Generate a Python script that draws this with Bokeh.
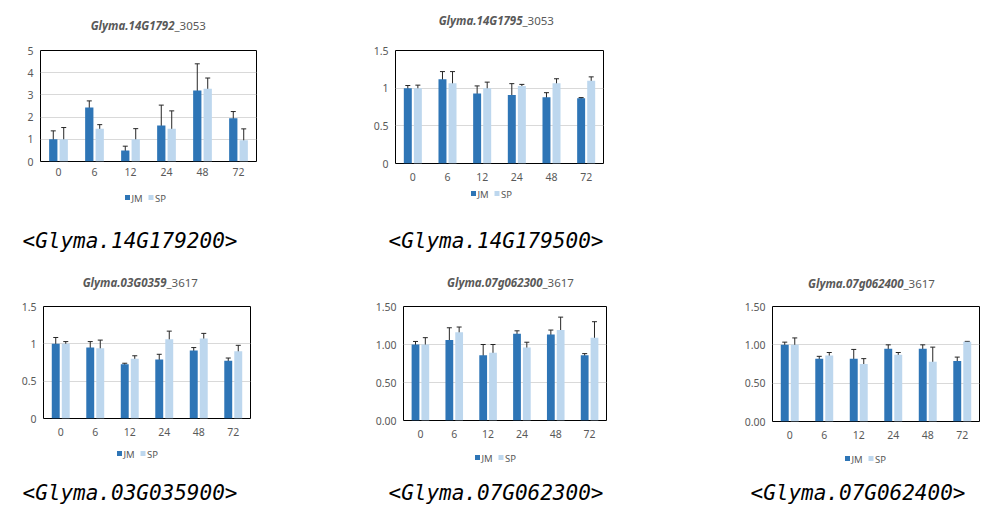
from bokeh.plotting import figure
from bokeh.models import (FactorRange, Range1d, ColumnDataSource, Whisker, TeeHead,
                          FixedTicker, NumeralTickFormatter)
from bokeh.core.properties import value
from bokeh.transform import dodge
from bokeh.layouts import row, column
from bokeh.embed import file_html
from bokeh.resources import INLINE

hours = ["0", "6", "12", "24", "48", "72"]

# Glyma.14G1792_3053
c1_jm = [1.0, 2.43, 0.49, 1.62, 3.2, 1.95]
c1_jm_err = [0.38, 0.3, 0.2, 0.92, 1.2, 0.3]
c1_sp = [1.0, 1.47, 1.0, 1.48, 3.28, 0.96]
c1_sp_err = [0.53, 0.19, 0.48, 0.8, 0.48, 0.51]

# Glyma.14G1795_3053
c2_jm = [1.0, 1.12, 0.93, 0.91, 0.88, 0.865]
c2_jm_err = [0.035, 0.1, 0.1, 0.15, 0.06, 0.01]
c2_sp = [1.0, 1.065, 1.0, 1.03, 1.065, 1.10]
c2_sp_err = [0.04, 0.155, 0.08, 0.02, 0.06, 0.05]

# Glyma.03G0359_3617
c3_jm = [1.0, 0.95, 0.725, 0.79, 0.91, 0.775]
c3_jm_err = [0.085, 0.08, 0.015, 0.07, 0.04, 0.035]
c3_sp = [1.0, 0.94, 0.80, 1.06, 1.07, 0.90]
c3_sp_err = [0.03, 0.11, 0.04, 0.11, 0.07, 0.08]

# Glyma.07g062300_3617
c4_jm = [1.0, 1.06, 0.86, 1.14, 1.13, 0.86]
c4_jm_err = [0.04, 0.16, 0.14, 0.04, 0.06, 0.02]
c4_sp = [1.0, 1.16, 0.89, 0.96, 1.19, 1.09]
c4_sp_err = [0.09, 0.07, 0.11, 0.07, 0.17, 0.21]

# Glyma.07g062400_3617
c5_jm = [1.0, 0.82, 0.82, 0.95, 0.95, 0.79]
c5_jm_err = [0.035, 0.03, 0.12, 0.05, 0.05, 0.05]
c5_sp = [1.0, 0.86, 0.75, 0.87, 0.78, 1.04]
c5_sp_err = [0.09, 0.04, 0.07, 0.03, 0.19, 0.005]

series_names = ["JM", "SP"]
JM_COLOR = "#2E75B6"
SP_COLOR = "#BDD7EE"
TXT = "#595959"
TICK_FONT = "Noto Sans"
PAGE_W = 1007


def blank(h):
    f = figure(x_range=Range1d(0, PAGE_W), y_range=Range1d(h, 0), frame_width=PAGE_W,
               frame_height=h, min_border_left=0, min_border_right=0, min_border_top=0,
               min_border_bottom=0, toolbar_location=None, output_backend="svg",
               x_axis_location=None, y_axis_location=None, title=None)
    f.xgrid.visible = False
    f.ygrid.visible = False
    f.outline_line_color = None
    return f


def add_title(hd, y0, bold, rest, split_x, title_y):
    hd.text(x=[split_x], y=[title_y - y0], text=[bold],
            text_align="right", text_baseline="middle", text_font=value(TICK_FONT),
            text_font_style="bold italic", text_font_size="11.5px", text_color=TXT)
    hd.text(x=[split_x], y=[title_y - y0], text=[rest],
            text_align="left", text_baseline="middle", text_font=value(TICK_FONT),
            text_font_size="11.5px", text_color=TXT)


def add_footer(fo, y0, leg_cx, leg_cy, caption, cap_x, cap_y):
    ly = leg_cy - y0
    fo.rect(x=[leg_cx - 19, leg_cx + 4.5], y=[ly, ly], width=5, height=5,
            fill_color=[JM_COLOR, SP_COLOR], line_color=None)
    fo.text(x=[leg_cx - 15, leg_cx + 8.5], y=[ly + 0.5, ly + 0.5], text=series_names,
            text_align="left", text_baseline="middle", text_font=value(TICK_FONT),
            text_font_size="9.5px", text_color=TXT)
    fo.text(x=[cap_x], y=[cap_y - y0], text=[caption],
            text_align="left", text_baseline="middle",
            text_font=value("DejaVu Sans Mono"), text_font_style="italic",
            text_font_size="21px", text_color="black")


def make_chart(jm, jm_err, sp, sp_err, ymax, ystep, fmt,
               page_x0, fig_w, fl, fw, fh, top_b, bot_b, xstand):
    p = figure(x_range=FactorRange(*hours), y_range=Range1d(0, ymax),
               frame_width=fw, frame_height=fh, output_backend="svg", toolbar_location=None,
               min_border_left=fl - page_x0, min_border_top=top_b,
               min_border_right=page_x0 + fig_w - (fl + fw),
               min_border_bottom=bot_b, title=None)
    src = ColumnDataSource(dict(
        x=hours, jm=jm, sp=sp,
        jm_up=[v + e for v, e in zip(jm, jm_err)], jm_lo=[v - e for v, e in zip(jm, jm_err)],
        sp_up=[v + e for v, e in zip(sp, sp_err)], sp_lo=[v - e for v, e in zip(sp, sp_err)],
    ))
    off = 0.145
    bw = 0.23
    p.vbar(x=dodge("x", -off, range=p.x_range), top="jm", width=bw, source=src,
           fill_color=JM_COLOR, line_color=None)
    p.vbar(x=dodge("x", off, range=p.x_range), top="sp", width=bw, source=src,
           fill_color=SP_COLOR, line_color=None)
    for d, up, lo in ((-off, "jm_up", "jm_lo"), (off, "sp_up", "sp_lo")):
        w = Whisker(base=dodge("x", d, range=p.x_range), upper=up, lower=lo, source=src,
                    line_color="#262626", line_width=1,
                    upper_head=TeeHead(size=5, line_color="#262626", line_width=1),
                    lower_head=TeeHead(size=5, line_color="#262626", line_width=1))
        p.add_layout(w)

    p.outline_line_color = "black"
    p.outline_line_width = 1
    p.outline_line_alpha = 1
    p.xgrid.grid_line_color = None
    p.ygrid.grid_line_color = "#D9D9D9"
    p.yaxis.ticker = FixedTicker(ticks=[i * ystep for i in range(int(round(ymax / ystep)) + 1)])
    p.yaxis.formatter = NumeralTickFormatter(format=fmt)
    for ax in (p.xaxis[0], p.yaxis[0]):
        ax.axis_line_color = None
        ax.major_tick_line_color = None
        ax.minor_tick_line_color = None
        ax.major_tick_out = 0
        ax.major_tick_in = 0
        ax.minor_tick_out = 0
        ax.major_label_text_color = TXT
        ax.major_label_text_font = TICK_FONT
        ax.major_label_text_font_size = "10.5px"
    p.yaxis.major_label_standoff = 7
    p.xaxis.major_label_standoff = xstand
    return p


# ---- row 1 (page y 0..262) ----
H1 = 35
head1 = blank(H1)
add_title(head1, 0, "Glyma.14G1792", "_3053", 174, 25)
add_title(head1, 0, "Glyma.14G1795", "_3053", 522, 20)
p1 = make_chart(c1_jm, c1_jm_err, c1_sp, c1_sp_err, 5, 1, "0",
                0, 330, 40, 216, 111, 50 - H1, 185 - 161, 6)
p2 = make_chart(c2_jm, c2_jm_err, c2_sp, c2_sp_err, 1.5, 0.5, "0.[0]",
                330, 310, 395, 208, 113, 43 - H1, 185 - 156, 9)
foot1 = blank(262 - 185)
add_footer(foot1, 185, 146, 197, "<Glyma.14G179200>", 22, 240)
add_footer(foot1, 185, 492, 193, "<Glyma.14G179500>", 388, 240)

# ---- row 2 (page y 262..514) ----
H2 = 34
head2 = blank(H2)
add_title(head2, 262, "Glyma.03G0359", "_3617", 166, 282)
add_title(head2, 262, "Glyma.07g062300", "_3617", 542, 282)
add_title(head2, 262, "Glyma.07g062400", "_3617", 903, 283)
r2_top = 262 + H2
p3 = make_chart(c3_jm, c3_jm_err, c3_sp, c3_sp_err, 1.5, 0.5, "0.[0]",
                0, 330, 43, 207, 112, 304 - r2_top, 444 - 416, 9)
p4 = make_chart(c4_jm, c4_jm_err, c4_sp, c4_sp_err, 1.5, 0.5, "0.00",
                330, 370, 403, 203, 114, 306 - r2_top, 444 - 420, 9)
p5 = make_chart(c5_jm, c5_jm_err, c5_sp, c5_sp_err, 1.5, 0.5, "0.00",
                700, 307, 772, 207, 115, 306 - r2_top, 444 - 421, 9)
foot2 = blank(514 - 444)
add_footer(foot2, 444, 138, 453, "<Glyma.03G035900>", 22, 492)
add_footer(foot2, 444, 496, 457, "<Glyma.07G062300>", 388, 492)
add_footer(foot2, 444, 866, 458, "<Glyma.07G062400>", 750, 492)

layout = column(head1, row(p1, p2), foot1, head2, row(p3, p4, p5), foot2)
open("out.html", "w").write(file_html(layout, INLINE))
